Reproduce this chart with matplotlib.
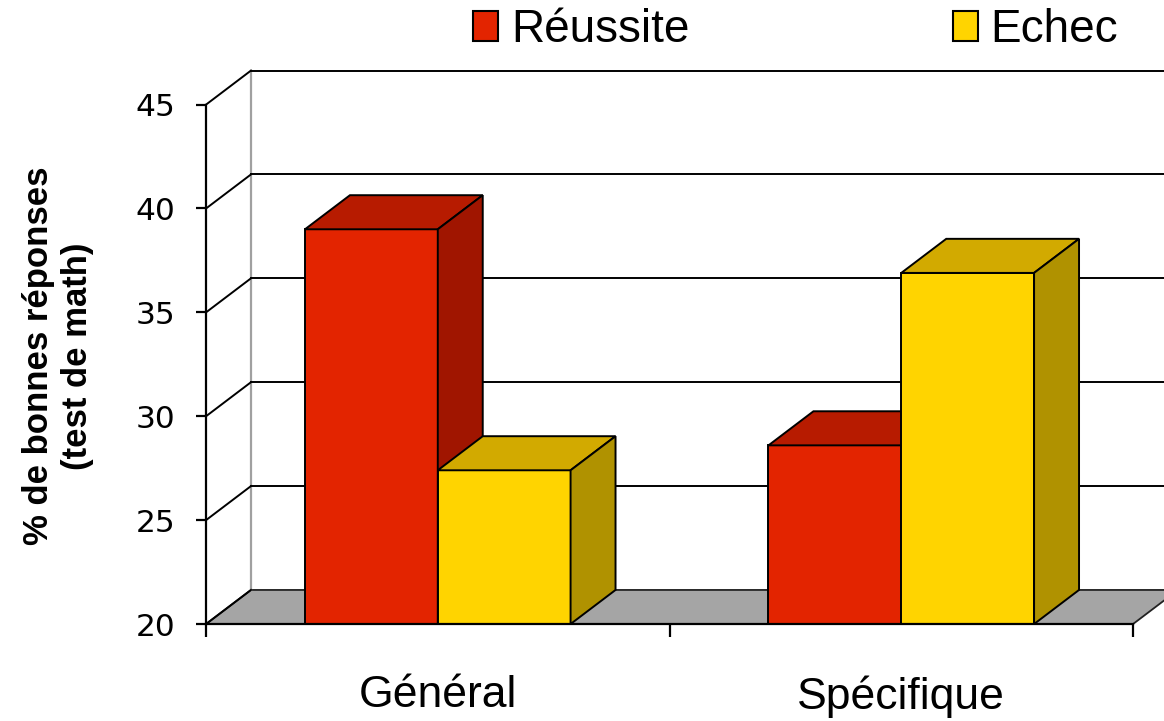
import matplotlib
matplotlib.use('Agg')
import matplotlib.pyplot as plt
from matplotlib.patches import Polygon, Patch
from matplotlib import font_manager
import numpy as np

categories = ['Général', 'Spécifique']
series_names = ['Réussite', 'Echec']
reussite = [39.0, 28.6]
echec = [27.4, 36.9]
yticks = [20, 25, 30, 35, 40, 45]

front_cols = ['#e32400', '#ffd400']
top_cols = ['#b71b00', '#d2aa00']
side_cols = ['#a01500', '#b09200']

installed = {f.name for f in font_manager.fontManager.ttflist}
if 'Liberation Sans Narrow' in installed:
    cat_font, cat_size = 'Liberation Sans Narrow', 38
else:
    cat_font, cat_size = 'Liberation Sans', 32

fig = plt.figure(figsize=(11.64, 7.21), dpi=100)
ax = fig.add_axes([0.177, 0.1345, 0.7964, 0.7204])
ax.set_xlim(0, 2)
ax.set_ylim(20, 45)

# depth of the fake 3d box, in data units
dx, dy = 0.097, 1.64
base = yticks[0]
top = yticks[-1]

# floor
ax.add_patch(Polygon([(0, base), (2, base), (2 + dx, base + dy), (dx, base + dy)],
                     closed=True, fc='#a5a5a5', ec='#222222', lw=1.3,
                     clip_on=False, zorder=1))

# back wall + left wall lines
ax.plot([dx, dx], [base + dy, top + dy], color='#a0a0a0', lw=1.6, clip_on=False, zorder=1)
for v in yticks:
    ax.plot([0, dx], [v, v + dy], color='#000000', lw=1.4, clip_on=False, zorder=1.5)
    if v > base:
        ax.plot([dx, 2.3], [v + dy, v + dy], color='#000000', lw=1.4, clip_on=False, zorder=1.5)

width = 0.2865
x = np.arange(len(categories)) + 0.5
for i, vals in enumerate([reussite, echec]):
    xs = x + (i - 0.5) * width
    z = 3 + i
    ax.bar(xs, [v - base for v in vals], width, bottom=base, color=front_cols[i],
           edgecolor='black', lw=1.4, zorder=z)
    for xc, v in zip(xs, vals):
        x0, x1 = xc - width / 2, xc + width / 2
        ax.add_patch(Polygon([(x0, v), (x1, v), (x1 + dx, v + dy), (x0 + dx, v + dy)],
                             closed=True, fc=top_cols[i], ec='black', lw=1.4,
                             clip_on=False, zorder=z))
        ax.add_patch(Polygon([(x1, base), (x1, v), (x1 + dx, v + dy), (x1 + dx, base + dy)],
                             closed=True, fc=side_cols[i], ec='black', lw=1.4,
                             clip_on=False, zorder=z))

for s in ['top', 'right']:
    ax.spines[s].set_visible(False)
for s in ['left', 'bottom']:
    ax.spines[s].set_linewidth(1.6)
    ax.spines[s].set_zorder(6)

ax.set_yticks(yticks)
ax.set_yticklabels([str(t) for t in yticks], fontsize=22.5, family='DejaVu Sans')
ax.tick_params(axis='y', length=7.2, width=1.6, pad=15)

ax.set_xticks([0, 1, 2])
ax.set_xticklabels([])
ax.tick_params(axis='x', which='major', length=9.4, width=1.6)
ax.set_xticks(x, minor=True)
ax.set_xticklabels(categories, minor=True, fontsize=cat_size, family=cat_font)
ax.tick_params(axis='x', which='minor', length=0, pad=37)

fig.text(58 / 1164, 1 - 356 / 721, '% de bonnes réponses\n(test de math)',
         rotation=90, ha='center', va='center', multialignment='center',
         fontsize=25, fontweight='bold', family='Liberation Sans', linespacing=1.25)

handles = [Patch(fc=front_cols[i], ec='black', lw=1.5) for i in range(2)]
fig.legend(handles, series_names, loc='center left',
           bbox_to_anchor=(473 / 1164, 1 - 30 / 721), ncol=2, frameon=False,
           prop={'family': 'Liberation Sans', 'size': 33}, borderpad=0,
           borderaxespad=0, handlelength=0.55, handleheight=0.65,
           handletextpad=0.28, columnspacing=5.74)

fig.savefig('out.png', dpi=100)
